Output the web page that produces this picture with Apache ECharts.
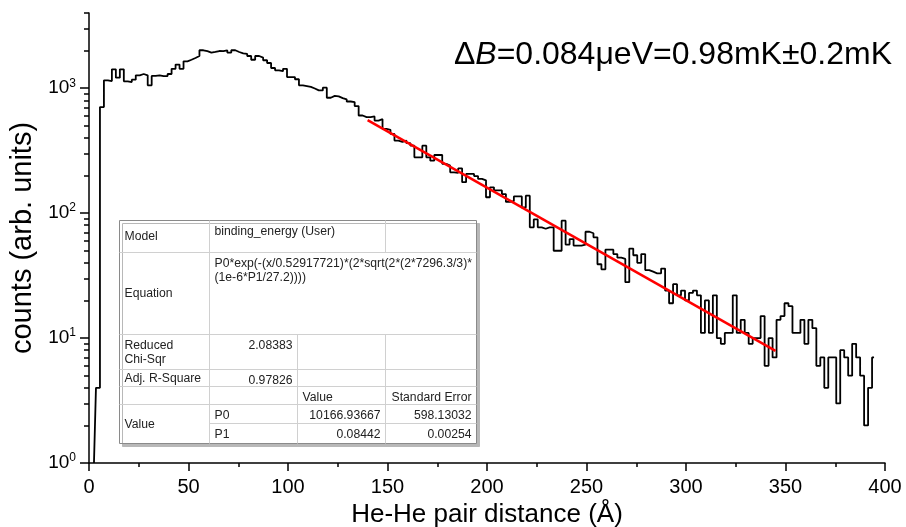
<!DOCTYPE html>
<html lang="en">
<head>
<meta charset="UTF-8">
<title>He-He pair distance</title>
<style>
  html, body { margin: 0; padding: 0; background: #fff; }
  #main { width: 906px; height: 527px; }
</style>
</head>
<body>
<div id="main"></div>
<script src="https://cdn.jsdelivr.net/npm/echarts@6/dist/echarts.min.js"></script>
<script>
    // histogram, 2 Å bins, first bin centred at 4.5 Å
    var binStart = 4.5;
    var binWidth = 2;
    var counts = [
        4, 706, 1156, 1140, 1416, 1214, 1416, 1135, 1120, 1170,
        1268, 1300, 1268, 1054, 1255, 1268, 1250, 1250, 1300, 1430,
        1545, 1430, 1642, 1690, 1746, 1810, 2013, 1980, 1928, 1950,
        1985, 1980, 2013, 1928, 2013, 1950, 1900, 1880, 1810, 1690,
        1810, 1760, 1674, 1592, 1452, 1390, 1370, 1430, 1228, 1228,
        1180, 1054, 1040, 1025, 995, 960, 960, 1010, 839, 868,
        860, 834, 813, 783, 775, 719, 605, 587, 587, 595,
        551, 565, 473, 465, 431, 381, 372, 381, 363, 347,
        280, 280, 347, 280, 263, 292, 292, 248, 240, 212,
        210, 228, 177, 206, 206, 198, 188, 183, 134, 161,
        152, 152, 142, 123, 125, 136, 136, 111, 138, 77,
        89, 77, 75, 77, 77, 50, 50, 87, 56, 62,
        55, 55, 56, 71, 69, 64, 39, 35.5, 51, 51,
        47, 44, 43, 28, 52, 46, 40, 47, 35, 34,
        33, 33, 36, 24, 19, 27, 22, 24, 20, 23,
        24, 22, 11, 20, 11, 22, 10, 9, 11, 11,
        22, 11, 14, 11, 9, 10, 10, 15, 6, 10,
        7, 14, 15, 19, 18, 11, 11, 14, 9, 14,
        12, 6, 7, 4, 7, 7, 3, 8, 7, 5,
        9, 7, 5, 2, 4, 7
    ];
    // empty bin left of the first count, sits on the axis floor
    var emptyBin = [2.5, 1];

    // red fit line, end points
    var fitX = [140, 345];
    var fitY = [555, 7.9];

    var yMajor = [1, 10, 100, 1000];
    var yMinor = [2, 3, 4, 5, 6, 7, 8, 9, 20, 30, 40, 50, 60, 70, 80, 90,
        200, 300, 400, 500, 600, 700, 800, 900, 2000, 3000, 4000];

    var tableRows = [
        ['Model', 'binding_energy (User)'],
        ['Equation', 'P0*exp(-(x/0.52917721)*(2*sqrt(2*(2*7296.3/3)*\n(1e-6*P1/27.2))))'],
        ['Reduced\nChi-Sqr', '2.08383'],
        ['Adj. R-Square', '0.97826'],
        ['', '', 'Value', 'Standard Error'],
        ['Value', 'P0', '10166.93667', '598.13032'],
        ['', 'P1', '0.08442', '0.00254']
    ];

    var FONT = '"Liberation Sans", Arial, sans-serif';

    var histData = [emptyBin].concat(counts.map(function (c, i) {
        return [binStart + i * binWidth, c];
    }));
    var fitData = fitX.map(function (x, i) { return [x, fitY[i]]; });

    // ---- inset table (Origin style) ----
    var colX = [119.5, 209.5, 297.5, 385.5, 476.5];
    var rowY = [220.5, 252.5, 334.5, 369.5, 386.5, 404.5, 423.5, 443.5];
    var tableFont = 12.2;
    var gfx = [];
    var tl = colX[0], tr = colX[4], tt = rowY[0], tb = rowY[7];
    gfx.push({
        type: 'rect', z: 100,
        shape: {x: tl, y: tt, width: tr - tl, height: tb - tt},
        style: {fill: '#fff', stroke: '#8a8a8a', lineWidth: 1,
            shadowColor: '#b8b8b8', shadowOffsetX: 3, shadowOffsetY: 3, shadowBlur: 0}
    });
    function vline(x, y1, y2) {
        gfx.push({type: 'line', z: 101, shape: {x1: x, y1: y1, x2: x, y2: y2},
            style: {stroke: '#d0d0d0', lineWidth: 1}});
    }
    function hline(y, x1, x2) {
        gfx.push({type: 'line', z: 101, shape: {x1: x1, y1: y, x2: x2, y2: y},
            style: {stroke: '#d0d0d0', lineWidth: 1}});
    }
    vline(colX[1], tt, tb);
    vline(colX[3], rowY[0], rowY[1]);
    vline(colX[2], rowY[2], tb);
    vline(colX[3], rowY[2], tb);
    for (var r = 1; r < 7; r++) {
        hline(rowY[r], r === 6 ? colX[1] : tl, tr);
    }
    function cell(text, c, r, align, valign, rowSpan) {
        var x = align === 'right' ? colX[c + 1] - 5 : colX[c] + 5;
        var y;
        if (valign === 'middle') {
            y = (rowY[r] + rowY[r + (rowSpan || 1)]) / 2;
        } else {
            y = rowY[r] + 3;
        }
        gfx.push({type: 'text', z: 102, x: x, y: y, scaleY: 1.12,
            style: {text: text, fill: '#222', font: tableFont + 'px ' + FONT,
                align: align, verticalAlign: valign, lineHeight: 13}});
    }
    cell(tableRows[0][0], 0, 0, 'left', 'middle');
    cell(tableRows[0][1], 1, 0, 'left', 'top');
    cell(tableRows[1][0], 0, 1, 'left', 'middle');
    cell(tableRows[1][1], 1, 1, 'left', 'top');
    cell(tableRows[2][0], 0, 2, 'left', 'top');
    cell(tableRows[2][1], 1, 2, 'right', 'top');
    cell(tableRows[3][0], 0, 3, 'left', 'middle');
    cell(tableRows[3][1], 1, 3, 'right', 'top');
    cell(tableRows[4][2], 2, 4, 'left', 'top');
    cell(tableRows[4][3], 3, 4, 'right', 'top');
    cell(tableRows[5][0], 0, 5, 'left', 'middle', 2);
    for (var k = 5; k < 7; k++) {
        cell(tableRows[k][1], 1, k, 'left', 'top');
        cell(tableRows[k][2], 2, k, 'right', 'top');
        cell(tableRows[k][3], 3, k, 'right', 'top');
    }

    gfx.push({
        type: 'text', z: 102, x: 892, y: 55,
        style: {
            text: '{n|Δ}{i|B}{n|=0.084μeV=0.98mK±0.2mK}',
            align: 'right', verticalAlign: 'middle',
            rich: {
                n: {fontSize: 32, fontFamily: FONT, fill: '#000'},
                i: {fontSize: 32, fontFamily: FONT, fontStyle: 'italic', fill: '#000'}
            }
        }
    });

    var axisLine = {color: '#000', width: 1.5};

    var chart = echarts.init(document.getElementById('main'));
    chart.setOption({
        animation: false,
        grid: {left: 89, right: 21, top: 13, bottom: 64, outerBoundsMode: 'none'},
        xAxis: {
            type: 'value', min: 0, max: 400, interval: 50,
            axisLine: {onZero: false, lineStyle: axisLine},
            axisTick: {length: 8, lineStyle: axisLine},
            minorTick: {show: true, splitNumber: 2, length: 4, lineStyle: axisLine},
            splitLine: {show: false},
            axisLabel: {color: '#000', fontSize: 20, fontFamily: FONT, margin: 14},
            name: 'He-He pair distance (Å)',
            nameLocation: 'middle', nameGap: 35,
            nameTextStyle: {color: '#000', fontSize: 26, fontFamily: FONT}
        },
        yAxis: [{
            type: 'log', logBase: 10, min: 1, max: 4000,
            axisLine: {onZero: false, lineStyle: axisLine},
            axisTick: {length: 9, lineStyle: axisLine, customValues: yMajor},
            splitLine: {show: false},
            axisLabel: {
                customValues: yMajor, margin: 13,
                formatter: function (v) {
                    return '{b|10}{s|' + Math.round(Math.log10(v)) + '}';
                },
                rich: {
                    b: {fontSize: 19, fontFamily: FONT, color: '#000'},
                    s: {fontSize: 12, fontFamily: FONT, color: '#000', padding: [0, 0, 10, 0]}
                }
            },
            name: 'counts (arb. units)',
            nameLocation: 'middle', nameGap: 52,
            nameTextStyle: {color: '#000', fontSize: 29, fontFamily: FONT}
        }, {
            // minor decade ticks
            type: 'log', logBase: 10, min: 1, max: 4000, position: 'left',
            axisLine: {show: false},
            axisTick: {length: 5, lineStyle: axisLine, customValues: yMinor},
            axisLabel: {show: false},
            splitLine: {show: false}
        }],
        series: [{
            type: 'line', data: histData, step: 'middle', symbol: 'none',
            lineStyle: {color: '#000', width: 1.8}, z: 2
        }, {
            type: 'line', data: fitData, symbol: 'none',
            lineStyle: {color: '#ff0000', width: 2.5}, z: 3
        }],
        graphic: gfx
    });
</script>
</body>
</html>
